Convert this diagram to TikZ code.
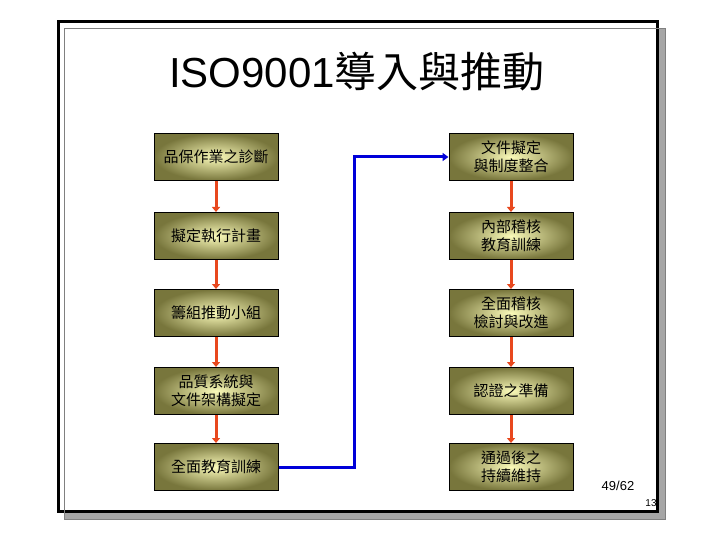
\documentclass[tikz,border=0pt]{standalone}
\usepackage{fontspec}
\setmainfont{Noto Sans CJK TC}
\newfontfamily\latin{Liberation Sans}
\usetikzlibrary{arrows.meta}
\definecolor{olive1}{RGB}{120,118,60}
\definecolor{olive2}{RGB}{250,250,185}
\definecolor{redar}{RGB}{232,72,30}
\tikzset{
 box/.style={draw=black, line width=1pt, minimum width=124pt, minimum height=47pt, inner color=olive2, outer color=olive1, font=\fontsize{15}{18}\selectfont, align=center},
 rar/.style={draw=redar, line width=3pt, -{Triangle[length=5pt,width=8pt]}},
 bar/.style={draw=blue!85!black, line width=3pt, -{Triangle[length=6pt,width=8pt]}}
}
\begin{document}
\begin{tikzpicture}[x=1pt,y=-1pt]
\useasboundingbox (0,0) rectangle (720,540);
\fill[gray!70] (64,28) rectangle (665,519);
\fill[white] (58,22) rectangle (657,511);
\draw[line width=3pt] (58,22) rectangle (657,511);
\draw[gray, line width=0.6pt] (64,28) rectangle (665,519);
\node[font=\latin\fontsize{42}{48}\selectfont] (title) at (357,72) {ISO9001{\normalfont 導入與推動}};
\node[box] (l1) at (216,157) {品保作業之診斷};
\node[box] (l2) at (216,236) {擬定執行計畫};
\node[box] (l3) at (216,313) {籌組推動小組};
\node[box] (l4) at (216,391) {品質系統與\\文件架構擬定};
\node[box] (l5) at (216,467) {全面教育訓練};
\node[box] (r1) at (511,157) {文件擬定\\與制度整合};
\node[box] (r2) at (511,236) {內部稽核\\教育訓練};
\node[box] (r3) at (511,313) {全面稽核\\檢討與改進};
\node[box] (r4) at (511,391) {認證之準備};
\node[box] (r5) at (511,467) {通過後之\\持續維持};
\foreach \a/\b in {l1/l2,l2/l3,l3/l4,l4/l5,r1/r2,r2/r3,r3/r4,r4/r5}
  \draw[rar] (\a.south) -- (\b.north);
\coordinate (c1) at (354,467);
\coordinate (c2) at (354,157);
\draw[bar] (l5.east) -- (c1) -- (c2) -- (r1.west);
\node[font=\latin\fontsize{13}{15}\selectfont] (pg) at (618,486) {49/62};
\node[font=\latin\fontsize{10}{12}\selectfont] (num) at (651,503) {13};
\end{tikzpicture}
\end{document}
